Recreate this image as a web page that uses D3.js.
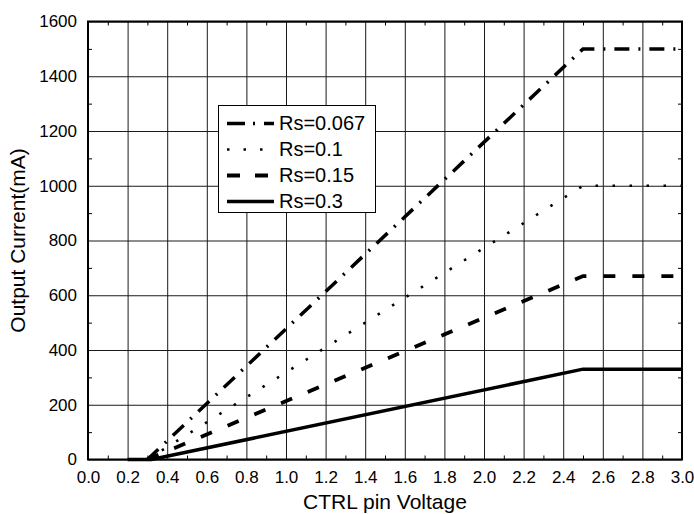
<!DOCTYPE html>
<html>
<head>
<meta charset="utf-8">
<script src="https://cdn.jsdelivr.net/npm/d3@7"></script>
<style>
  html, body { margin: 0; padding: 0; background: #fff; }
  svg { display: block; font-family: "Liberation Sans", Arial, Helvetica, sans-serif; }
</style>
</head>
<body>
<svg id="chart" width="694" height="514"></svg>
<script>
// ---- data ----
const seriesNames = ["Rs=0.067", "Rs=0.1", "Rs=0.15", "Rs=0.3"];
const vRs067 = [0.3, 2.5, 3.0];
const iRs067 = [0, 1500, 1500];
const vRs01 = [0.3, 2.5, 3.0];
const iRs01 = [0, 1000, 1000];
const vRs015 = [0.3, 2.5, 3.0];
const iRs015 = [0, 670, 670];
const vRs03 = [0.2, 0.32, 2.5, 3.0];
const iRs03 = [0, 0, 330, 330];
const xTicks = [0.0, 0.2, 0.4, 0.6, 0.8, 1.0, 1.2, 1.4, 1.6, 1.8, 2.0, 2.2, 2.4, 2.6, 2.8, 3.0];
const yTicks = [0, 200, 400, 600, 800, 1000, 1200, 1400, 1600];
const xMinor = d3.range(1, 30, 2).map(d => d / 10);
const yMinor = d3.range(100, 1600, 200);

// ---- layout ----
const L = 88, R = 682, T = 21.5, B = 459.5;
const svg = d3.select("#chart");
const x = d3.scaleLinear().domain([0, 3]).range([L, R]);
const y = d3.scaleLinear().domain([0, 1600]).range([B, T]);

// grid
svg.append("g").attr("transform", `translate(0,${B})`)
  .call(d3.axisBottom(x).tickValues(xTicks).tickSize(-(B - T)).tickFormat(""))
  .call(g => g.select(".domain").remove())
  .selectAll("line").attr("stroke", "#1a1a1a").attr("stroke-width", 1);
svg.append("g").attr("transform", `translate(${L},0)`)
  .call(d3.axisLeft(y).tickValues(yTicks).tickSize(-(R - L)).tickFormat(""))
  .call(g => g.select(".domain").remove())
  .selectAll("line").attr("stroke", "#1a1a1a").attr("stroke-width", 1);

// minor ticks on all sides (inward)
const mt = 4;
svg.append("g").attr("transform", `translate(0,${B})`)
  .call(d3.axisBottom(x).tickValues(xMinor).tickSize(-mt).tickFormat(""))
  .call(g => g.select(".domain").remove());
svg.append("g").attr("transform", `translate(0,${T})`)
  .call(d3.axisTop(x).tickValues(xMinor).tickSize(-mt).tickFormat(""))
  .call(g => g.select(".domain").remove());
svg.append("g").attr("transform", `translate(${L},0)`)
  .call(d3.axisLeft(y).tickValues(yMinor).tickSize(-mt).tickFormat(""))
  .call(g => g.select(".domain").remove());
svg.append("g").attr("transform", `translate(${R},0)`)
  .call(d3.axisRight(y).tickValues(yMinor).tickSize(-mt).tickFormat(""))
  .call(g => g.select(".domain").remove());

// tick labels
const xAx = svg.append("g").attr("transform", `translate(0,${B})`)
  .call(d3.axisBottom(x).tickValues(xTicks).tickSize(0).tickPadding(11.5).tickFormat(d3.format(".1f")));
xAx.select(".domain").remove();
xAx.selectAll("text").attr("font-size", 17).attr("font-family", null).attr("fill", "#000");
const yAx = svg.append("g").attr("transform", `translate(${L},0)`)
  .call(d3.axisLeft(y).tickValues(yTicks).tickSize(0).tickPadding(11).tickFormat(d3.format("d")));
yAx.select(".domain").remove();
yAx.selectAll("text").attr("font-size", 17).attr("font-family", null).attr("fill", "#000");

// series lines
const styles = [
  { v: vRs067, i: iRs067, dash: "15,9,2,9", w: 3.5 },
  { v: vRs01, i: iRs01, dash: "2.5,14.5", w: 2.6 },
  { v: vRs015, i: iRs015, dash: "12,17", w: 3.8 },
  { v: vRs03, i: iRs03, dash: null, w: 3.5 }
];
const line = d3.line().x(d => x(d[0])).y(d => y(d[1]));
styles.forEach(s => {
  const pts = s.v.map((v, k) => [v, s.i[k]]);
  svg.append("path").datum(pts)
    .attr("d", line)
    .attr("fill", "none")
    .attr("stroke", "#000")
    .attr("stroke-width", s.w)
    .attr("stroke-dasharray", s.dash);
});

// plot border
svg.append("rect").attr("x", L).attr("y", T).attr("width", R - L).attr("height", B - T)
  .attr("fill", "none").attr("stroke", "#000").attr("stroke-width", 2);

// legend
const lg = svg.append("g");
lg.append("rect").attr("x", 218.5).attr("y", 105.5).attr("width", 157).attr("height", 107)
  .attr("fill", "#fff").attr("stroke", "#000").attr("stroke-width", 1);
const legendDash = ["18,8,2,9", "2.5,14", "13,15", null];
seriesNames.forEach((name, k) => {
  const base = 130 + k * 26;
  lg.append("line").attr("x1", 227).attr("x2", 274)
    .attr("y1", base - 6.5).attr("y2", base - 6.5)
    .attr("stroke", "#000").attr("stroke-width", styles[k].w)
    .attr("stroke-dasharray", legendDash[k]);
  lg.append("text").attr("x", 279).attr("y", base)
    .attr("font-size", 20).attr("fill", "#000").text(name);
});

// axis titles
svg.append("text").attr("x", (L + R) / 2).attr("y", 509)
  .attr("text-anchor", "middle").attr("font-size", 21).text("CTRL pin Voltage");
svg.append("text").attr("transform", `translate(25,${(T + B) / 2}) rotate(-90)`)
  .attr("text-anchor", "middle").attr("font-size", 21).text("Output Current(mA)");
</script>
</body>
</html>
